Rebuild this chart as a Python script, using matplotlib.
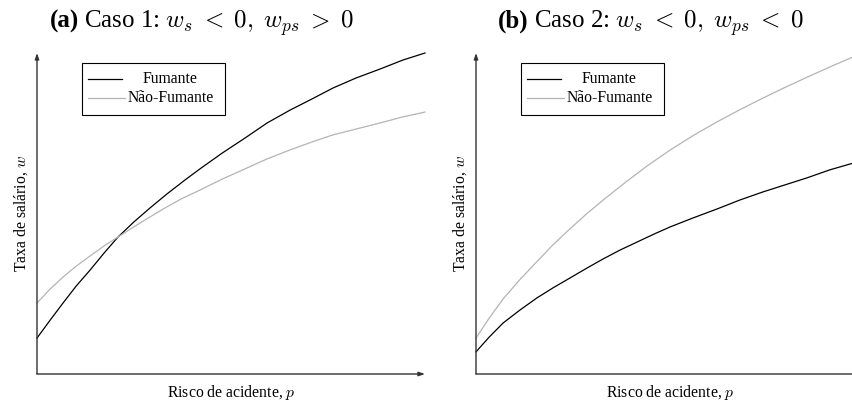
import matplotlib
matplotlib.use('Agg')
import matplotlib.pyplot as plt
from matplotlib.patches import Rectangle

plt.rcParams['font.family'] = ['Liberation Serif', 'DejaVu Serif']
plt.rcParams['mathtext.fontset'] = 'cm'

# Valores (p e w em escala 0-100)
# Caso 1
p_fum_1 = [0, 3.4, 6.7, 10.1, 13.7, 17.3, 20.9, 25.0, 29.1, 33.5, 38.1, 42.0,
           47.7, 53.6, 59.3, 65.2, 70.9, 76.3, 82.2, 88.4, 94.3, 100]
w_fum_1 = [11.2, 16.8, 22.1, 27.4, 32.4, 37.7, 42.7, 47.4, 51.7, 56.1, 60.4, 63.9,
           68.8, 73.5, 78.2, 82.2, 85.7, 89.1, 92.2, 95.0, 97.8, 100]
p_nfum_1 = [0, 3.4, 6.7, 10.1, 13.7, 17.3, 20.9, 26.5, 32.5, 37.1, 42.0,
            47.7, 53.6, 59.3, 65.2, 70.9, 76.3, 82.2, 88.4, 94.3, 100]
w_nfum_1 = [22.1, 26.5, 30.2, 33.6, 36.8, 39.9, 42.7, 47.0, 51.4, 54.5, 57.3,
            60.7, 63.9, 67.0, 69.8, 72.3, 74.5, 76.3, 78.2, 80.1, 81.6]

# Caso 2
p_fum_2 = [0, 3.4, 7.0, 11.3, 15.7, 19.8, 24.2, 28.6, 32.7, 37.1, 41.5,
           45.9, 50.0, 55.9, 62.1, 68.0, 73.9, 79.6, 85.3, 91.2, 97.2]
w_fum_2 = [6.9, 11.5, 15.9, 19.9, 23.7, 26.8, 29.9, 33.0, 35.8, 38.6, 41.1,
           43.6, 45.8, 48.6, 51.4, 54.2, 56.7, 58.9, 61.1, 63.6, 65.7]
p_nfum_2 = [0, 3.4, 7.0, 11.3, 15.7, 19.8, 24.2, 28.6, 33.2, 38.4,
            44.3, 50.2, 56.0, 61.9, 67.8, 73.7, 79.5, 85.4, 91.3, 97.2]
w_nfum_2 = [11.2, 17.4, 23.4, 29.4, 35.0, 40.2, 45.2, 50.0, 54.6, 59.6,
            65.0, 69.9, 74.3, 78.4, 82.2, 85.8, 89.2, 92.5, 95.7, 98.8]

rotulos = ['Fumante', 'Não-Fumante']
cores = ['black', '#b4b4b4']
titulos = [('(a)', 'Caso 1: $w_s \\;<\\; 0,\\; w_{ps} \\;>\\; 0$'),
           ('(b)', 'Caso 2: $w_s \\;<\\; 0,\\; w_{ps} \\;<\\; 0$')]

W, H = 853, 403
fig = plt.figure(figsize=(W / 100, H / 100), dpi=100)
ax1 = fig.add_axes([37 / W, 29 / H, 388 / W, 321 / H])
ax2 = fig.add_axes([476 / W, 29 / H, 388 / W, 321 / H])


def painel(ax, pf, wf, pn, wn):
    ax.set_xlim(0, 100)
    ax.set_ylim(0, 100)
    ax.axis('off')
    seta = dict(arrowstyle='-|>,head_length=0.35,head_width=0.12',
                color='#333333', lw=1.0, shrinkA=0, shrinkB=0)
    ax.annotate('', xy=(100, 0), xytext=(0, 0), arrowprops=seta, annotation_clip=False)
    ax.annotate('', xy=(0, 100), xytext=(0, 0), arrowprops=seta, annotation_clip=False)
    ax.plot(pf, wf, color=cores[0], lw=0.9, clip_on=False)
    ax.plot(pn, wn, color=cores[1], lw=0.9, clip_on=False)

    # legenda com texto centrado
    ax.add_patch(Rectangle((0.116, 0.807), 0.368, 0.162, transform=ax.transAxes,
                           fill=False, ec='black', lw=0.8))
    ax.plot([0.131, 0.219], [0.919, 0.919], color=cores[0], lw=0.9, transform=ax.transAxes)
    ax.plot([0.131, 0.227], [0.860, 0.860], color=cores[1], lw=0.9, transform=ax.transAxes)
    ax.text(0.344, 0.919, rotulos[0], transform=ax.transAxes, ha='center', va='center', fontsize=11.3)
    ax.text(0.344, 0.860, rotulos[1], transform=ax.transAxes, ha='center', va='center', fontsize=11.3)

    ax.text(0.5, -0.057, 'Risco de acidente, $p$', transform=ax.transAxes,
            ha='center', va='center', fontsize=11.3)
    ax.text(-0.04, 0.5, 'Taxa de salário, $w$', transform=ax.transAxes,
            ha='center', va='center', rotation=90, fontsize=11.3)


painel(ax1, p_fum_1, w_fum_1, p_nfum_1, w_nfum_1)
painel(ax2, p_fum_2, w_fum_2, p_nfum_2, w_nfum_2)

renderer = fig.canvas.get_renderer()
for x0, (neg, resto) in zip([50, 498], titulos):
    t = fig.text(x0 / W, 1 - 28 / H, neg, fontweight='bold', fontsize=18, va='baseline')
    bb = t.get_window_extent(renderer)
    fig.text((bb.x1 + 5) / W, 1 - 28 / H, resto, fontsize=18, va='baseline')

fig.savefig('out.png', dpi=100)
